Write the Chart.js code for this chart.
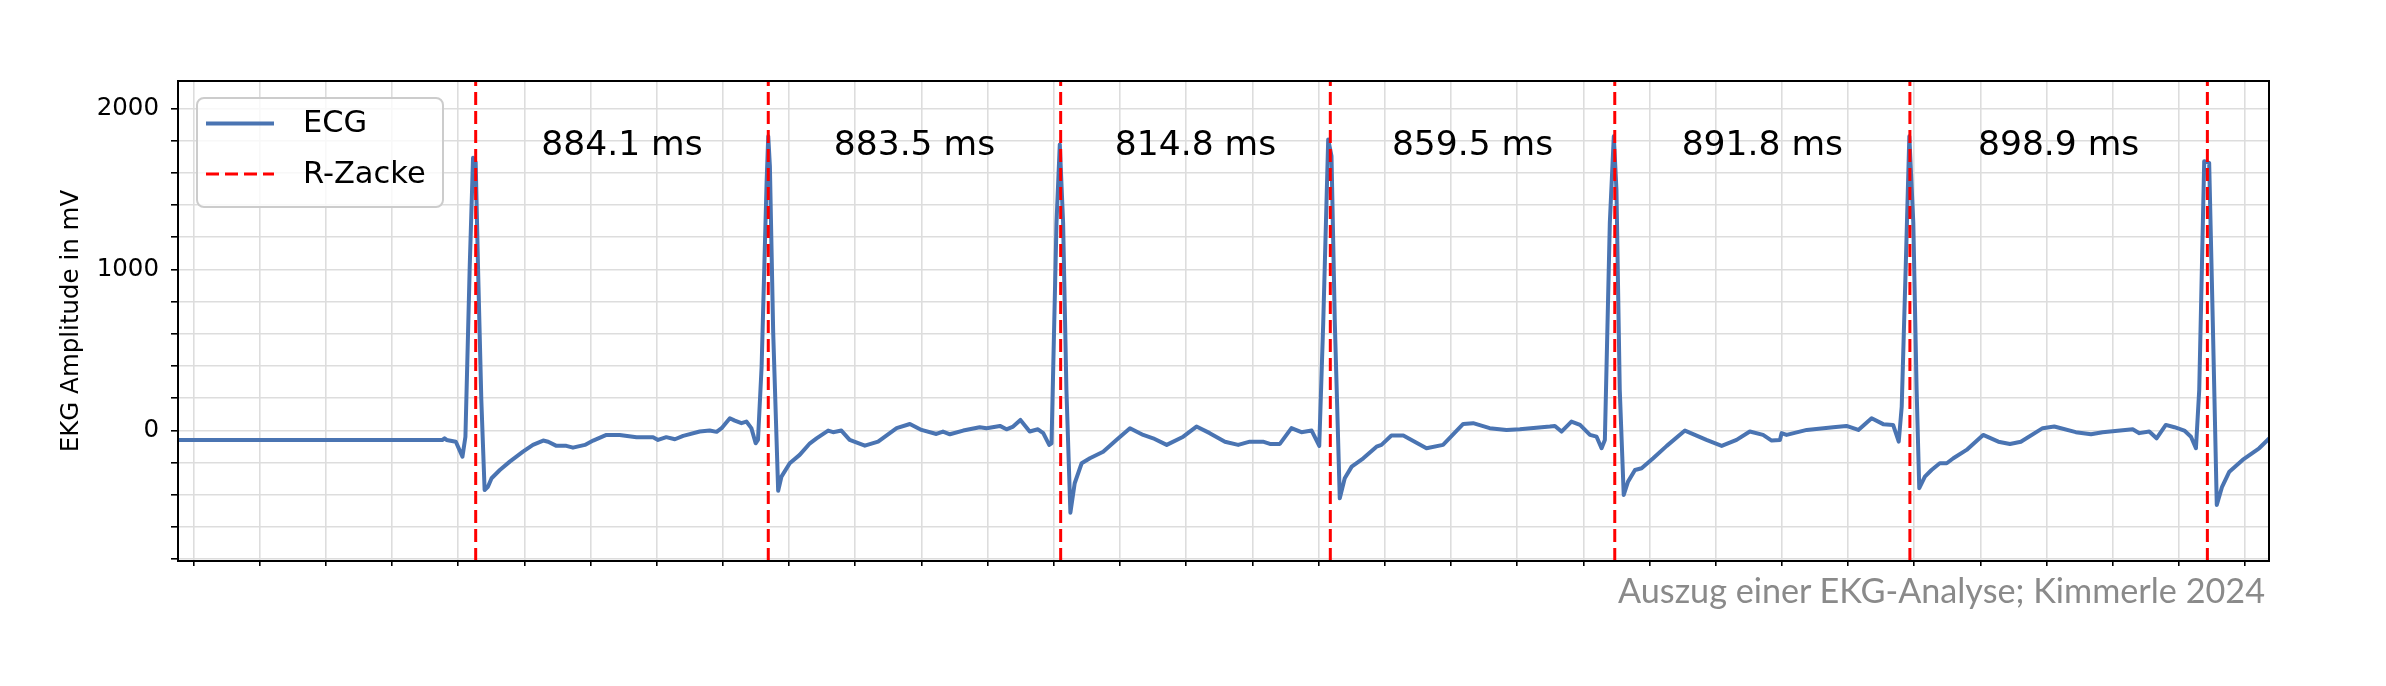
<!DOCTYPE html>
<html>
<head>
<meta charset="utf-8">
<title>EKG-Analyse</title>
<script src="https://cdn.jsdelivr.net/npm/chart.js@4.4.1/dist/chart.umd.min.js"></script>
<style>
  html, body { margin: 0; padding: 0; background: #fff; }
  #wrap { position: relative; width: 2386px; height: 686px; }
  #source {
    position: absolute; right: 121px; top: 569px;
    font-family: Lato, "Open Sans", sans-serif; font-weight: 400;
    font-size: 34.2px; color: #8a8a8a; white-space: nowrap;
  }
</style>
</head>
<body>
<div id="wrap">
  <canvas id="ecgChart" width="2386" height="686"></canvas>
  <div id="source">Auszug einer EKG-Analyse; Kimmerle 2024</div>
</div>
<script>
// time in ms, amplitude in mV
const ecgTime = [
  -46, 753, 759, 765, 793, 813, 822, 835, 845, 853, 860, 870, 880, 890, 901, 926, 956, 996, 1026, 1057,
  1072, 1097, 1127, 1147, 1183, 1208, 1248, 1288, 1339, 1389, 1404, 1429, 1455, 1480, 1530, 1560, 1581, 1596, 1621, 1636,
  1656, 1671, 1686, 1699, 1706, 1717, 1732, 1737, 1742, 1752, 1767, 1777, 1802, 1832, 1863, 1883, 1918, 1933, 1958, 1983,
  2029, 2069, 2125, 2165, 2200, 2245, 2265, 2286, 2326, 2376, 2397, 2437, 2457, 2477, 2499, 2527, 2552, 2568, 2586, 2593,
  2608, 2618, 2628, 2638, 2650, 2663, 2684, 2709, 2749, 2789, 2830, 2870, 2900, 2941, 2991, 3031, 3071, 3117, 3157, 3192,
  3232, 3253, 3283, 3318, 3348, 3379, 3402, 3414, 3429, 3439, 3449, 3464, 3479, 3500, 3535, 3575, 3590, 3620, 3656, 3726,
  3776, 3837, 3867, 3917, 3968, 4008, 4099, 4114, 4134, 4164, 4190, 4220, 4240, 4255, 4265, 4280, 4292, 4300, 4310, 4322,
  4335, 4356, 4376, 4411, 4452, 4507, 4572, 4618, 4663, 4703, 4743, 4769, 4794, 4799, 4814, 4875, 4955, 4995, 5031, 5071,
  5106, 5136, 5153, 5162, 5175, 5185, 5197, 5207, 5215, 5232, 5252, 5277, 5298, 5318, 5358, 5408, 5454, 5489, 5522, 5588,
  5623, 5688, 5734, 5769, 5860, 5880, 5910, 5932, 5960, 5986, 6016, 6036, 6051, 6061, 6076, 6091, 6102, 6114, 6130, 6152,
  6192, 6242, 6273
];
const ecgValue = [
  -59, -59, -49, -59, -70, -163, -39, 1019, 1693, 1664, 1019, 190, -370, -350, -297, -246, -194, -132, -90, -63,
  -70, -96, -96, -107, -90, -63, -28, -28, -42, -42, -59, -42, -55, -34, -7, -1, -9, 14, 76, 61,
  45, 55, 14, -80, -59, 397, 1537, 1827, 1641, 606, -375, -287, -204, -152, -80, -49, -1, -11, -1, -59,
  -95, -70, 14, 40, 3, -22, -7, -24, -1, 20, 14, 28, 7, 24, 65, -7, 7, -17, -90, -80,
  1289, 1776, 1289, 252, -511, -328, -204, -173, -132, -59, 14, -28, -49, -90, -39, 24, -17, -70, -90, -70,
  -70, -84, -84, 14, -11, -1, -96, 669, 1807, 1703, 669, -422, -297, -225, -173, -101, -90, -32, -32, -111,
  -90, 40, 45, 14, 3, 7, 24, 28, -7, 55, 34, -28, -39, -111, -59, 1290, 1827, 1496, 252, -401,
  -318, -246, -235, -173, -96, -1, -59, -96, -59, -7, -28, -63, -59, -17, -28, 3, 20, 28, 3, 76,
  39, 34, -70, 148, 1081, 1827, 1289, 252, -359, -287, -246, -204, -204, -173, -121, -28, -70, -84, -70, 14,
  24, -11, -24, -11, 7, -17, -7, -49, 34, 20, -1, -39, -111, 252, 1672, 1662, 669, -463, -350, -256,
  -183, -111, -49
];
const rPeaks = [853, 1737.1, 2620.6, 3435.4, 4294.9, 5186.7, 6085.6];
const rrIntervals = [884.1, 883.5, 814.8, 859.5, 891.8, 898.9];
const rrLabelLevel = 1713;   // baseline of the interval labels, in mV
const yTicks = [-800, -600, -400, -200, 0, 200, 400, 600, 800, 1000, 1200, 1400, 1600, 1800, 2000];
const yLabelled = [0, 1000, 2000];
const xTickStep = 200;       // unlabelled x ticks every 200 ms
const xLimits = [-46.5, 6271.8];
const yLimits = [-811, 2170];

Chart.defaults.font.family = '"DejaVu Sans", sans-serif';
Chart.defaults.color = '#000';

const ecgPoints = ecgTime.map((t, i) => ({ x: t, y: ecgValue[i] }));
const rLinePoints = [];
rPeaks.forEach(r => {
    rLinePoints.push({ x: r, y: yLimits[0] }, { x: r, y: yLimits[1] }, { x: r, y: null });
});
const xTicks = [];
for (let v = 0; v <= xLimits[1]; v += xTickStep) xTicks.push(v);

// interval texts between neighbouring R peaks
const rrLabels = {
    id: 'rrLabels',
    afterDatasetsDraw(chart) {
        const { ctx, scales: { x, y } } = chart;
        ctx.save();
        ctx.font = '34.5px "DejaVu Sans"';
        ctx.fillStyle = '#000';
        ctx.textAlign = 'center';
        ctx.textBaseline = 'alphabetic';
        rrIntervals.forEach((ms, i) => {
            const mid = (rPeaks[i] + rPeaks[i + 1]) / 2;
            ctx.fillText(ms.toFixed(1) + ' ms', x.getPixelForValue(mid), y.getPixelForValue(rrLabelLevel));
        });
        ctx.restore();
    }
};

// full black frame + boxed legend in the upper left
const frameAndLegend = {
    id: 'frameAndLegend',
    afterDraw(chart) {
        const { ctx, chartArea: a } = chart;
        ctx.save();
        ctx.strokeStyle = '#000';
        ctx.lineWidth = 2;
        ctx.strokeRect(a.left, a.top, a.right - a.left, a.bottom - a.top);

        const x0 = a.left + 19, y0 = a.top + 17, w = 246, h = 109, r = 7;
        ctx.beginPath();
        ctx.moveTo(x0 + r, y0);
        ctx.arcTo(x0 + w, y0, x0 + w, y0 + h, r);
        ctx.arcTo(x0 + w, y0 + h, x0, y0 + h, r);
        ctx.arcTo(x0, y0 + h, x0, y0, r);
        ctx.arcTo(x0, y0, x0 + w, y0, r);
        ctx.closePath();
        ctx.fillStyle = 'rgba(255,255,255,0.8)';
        ctx.fill();
        ctx.strokeStyle = '#cccccc';
        ctx.lineWidth = 2;
        ctx.stroke();

        ctx.font = '30.5px "DejaVu Sans"';
        ctx.textBaseline = 'middle';
        ctx.fillStyle = '#000';
        chart.data.datasets.forEach((ds, i) => {
            const yy = y0 + 25.5 + i * 50.5;
            ctx.beginPath();
            ctx.setLineDash(ds.borderDash || []);
            ctx.strokeStyle = ds.borderColor;
            ctx.lineWidth = ds.borderWidth;
            ctx.moveTo(x0 + 9, yy);
            ctx.lineTo(x0 + 77, yy);
            ctx.stroke();
            ctx.setLineDash([]);
            ctx.fillText(ds.label, x0 + 106, yy + 1);
        });
        ctx.restore();
    }
};

new Chart(document.getElementById('ecgChart'), {
    type: 'line',
    data: {
        datasets: [
            {
                label: 'ECG',
                data: ecgPoints,
                borderColor: '#4a74b2',
                borderWidth: 4,
                pointRadius: 0,
                tension: 0,
                borderJoinStyle: 'round',
                order: 1
            },
            {
                label: 'R-Zacke',
                data: rLinePoints,
                borderColor: '#ff0000',
                borderWidth: 3,
                borderDash: [13, 6],
                pointRadius: 0,
                spanGaps: false,
                order: 0
            }
        ]
    },
    options: {
        responsive: false,
        animation: false,
        devicePixelRatio: 1,
        layout: { padding: { left: 0, right: 117, top: 81, bottom: 0 } },
        plugins: {
            legend: { display: false },
            tooltip: { enabled: false }
        },
        scales: {
            x: {
                type: 'linear',
                min: xLimits[0],
                max: xLimits[1],
                afterBuildTicks: s => { s.ticks = xTicks.map(v => ({ value: v })); },
                afterFit: s => { s.height = 125; },
                ticks: { autoSkip: false, maxRotation: 0, callback: () => '' },
                grid: { color: '#dddddd', lineWidth: 1.6, tickColor: '#000', tickLength: 5, tickWidth: 1.6 },
                border: { color: '#000', width: 2 }
            },
            y: {
                type: 'linear',
                min: yLimits[0],
                max: yLimits[1],
                afterBuildTicks: s => { s.ticks = yTicks.map(v => ({ value: v })); },
                afterFit: s => { s.width = 178; },
                ticks: {
                    autoSkip: false,
                    padding: 12,
                    font: { size: 24.5 },
                    color: '#000',
                    callback: v => yLabelled.includes(v) ? String(v) : ''
                },
                title: {
                    display: true,
                    text: 'EKG Amplitude in mV',
                    font: { size: 24.5 },
                    color: '#000',
                    padding: { top: 57, bottom: 0 }
                },
                grid: { color: '#dddddd', lineWidth: 1.6, tickColor: '#000', tickLength: 7, tickWidth: 1.6 },
                border: { color: '#000', width: 2 }
            }
        }
    },
    plugins: [rrLabels, frameAndLegend]
});
</script>
</body>
</html>
